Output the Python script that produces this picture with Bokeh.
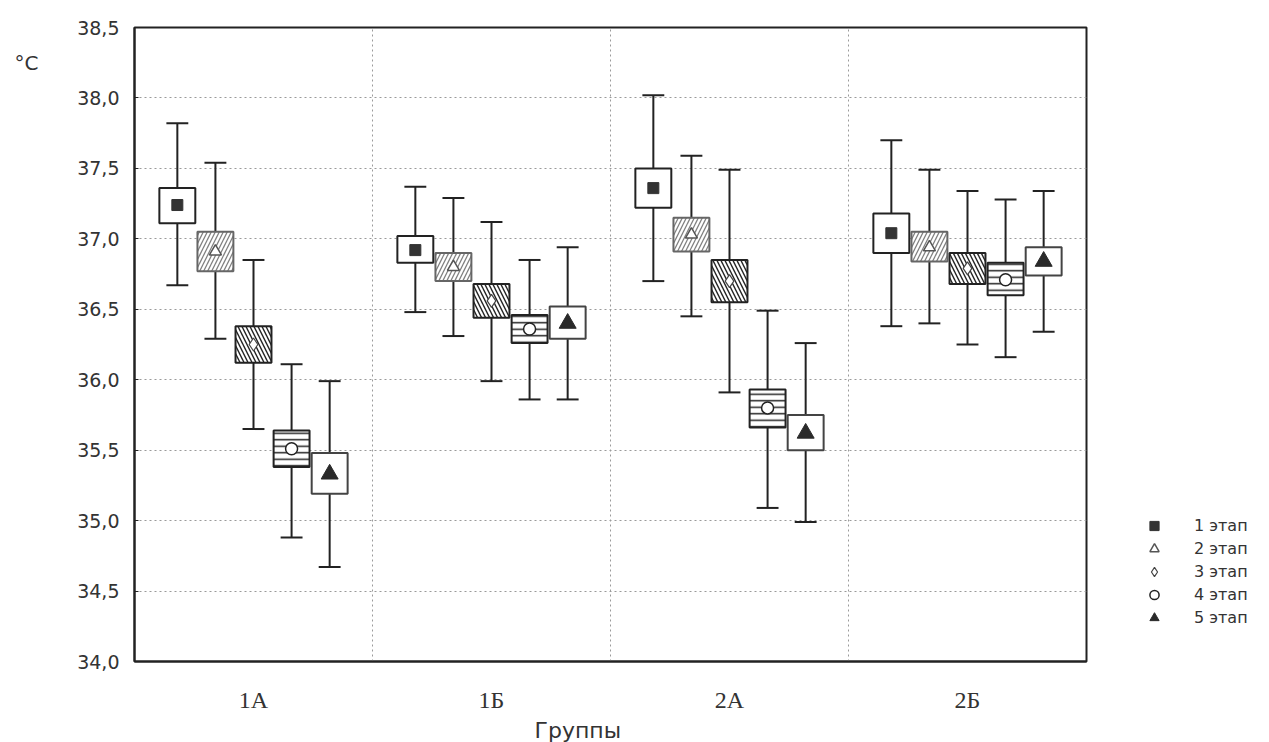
from bokeh.plotting import figure
from bokeh.models import (Range1d, FixedTicker, CustomJSTickFormatter, Legend, LegendItem,
                          Title, LinearAxis, ColumnDataSource)
from bokeh.embed import file_html
from bokeh.resources import INLINE

# ---- data ----
groups = ["1A", "1Б", "2A", "2Б"]
stages = ["1 этап", "2 этап", "3 этап", "4 этап", "5 этап"]

mean_s1 = [37.24, 36.92, 37.36, 37.04]
mean_s2 = [36.91, 36.80, 37.03, 36.94]
mean_s3 = [36.25, 36.56, 36.70, 36.79]
mean_s4 = [35.51, 36.36, 35.80, 36.71]
mean_s5 = [35.33, 36.40, 35.62, 36.84]

box_lo_s1 = [37.11, 36.83, 37.22, 36.90]
box_hi_s1 = [37.36, 37.02, 37.50, 37.18]
box_lo_s2 = [36.77, 36.70, 36.91, 36.84]
box_hi_s2 = [37.05, 36.90, 37.15, 37.05]
box_lo_s3 = [36.12, 36.44, 36.55, 36.68]
box_hi_s3 = [36.38, 36.68, 36.85, 36.90]
box_lo_s4 = [35.38, 36.26, 35.66, 36.60]
box_hi_s4 = [35.64, 36.46, 35.93, 36.83]
box_lo_s5 = [35.19, 36.29, 35.50, 36.74]
box_hi_s5 = [35.48, 36.52, 35.75, 36.94]

wh_lo_s1 = [36.67, 36.48, 36.70, 36.38]
wh_hi_s1 = [37.82, 37.37, 38.02, 37.70]
wh_lo_s2 = [36.29, 36.31, 36.45, 36.40]
wh_hi_s2 = [37.54, 37.29, 37.59, 37.49]
wh_lo_s3 = [35.65, 35.99, 35.91, 36.25]
wh_hi_s3 = [36.85, 37.12, 37.49, 37.34]
wh_lo_s4 = [34.88, 35.86, 35.09, 36.16]
wh_hi_s4 = [36.11, 36.85, 36.49, 37.28]
wh_lo_s5 = [34.67, 35.86, 34.99, 36.34]
wh_hi_s5 = [35.99, 36.94, 36.26, 37.34]

y_ticks = [34.0, 34.5, 35.0, 35.5, 36.0, 36.5, 37.0, 37.5, 38.0, 38.5]
unit_label = "°C"
unit_pos = 38.25
x_title = "Группы"

means = [mean_s1, mean_s2, mean_s3, mean_s4, mean_s5]
box_lo = [box_lo_s1, box_lo_s2, box_lo_s3, box_lo_s4, box_lo_s5]
box_hi = [box_hi_s1, box_hi_s2, box_hi_s3, box_hi_s4, box_hi_s5]
wh_lo = [wh_lo_s1, wh_lo_s2, wh_lo_s3, wh_lo_s4, wh_lo_s5]
wh_hi = [wh_hi_s1, wh_hi_s2, wh_hi_s3, wh_hi_s4, wh_hi_s5]

# ---- figure ----
p = figure(frame_width=952, frame_height=634,
           min_border_left=134, min_border_right=167,
           min_border_top=27, min_border_bottom=20,
           x_range=Range1d(0, 4), y_range=Range1d(34.0, 38.5),
           output_backend="svg", toolbar_location=None,
           background_fill_color="white", border_fill_color="white")

p.outline_line_color = "#222222"
p.outline_line_width = 2

for ax in (p.xaxis[0], p.yaxis[0]):
    ax.axis_line_color = "#222222"
    ax.axis_line_width = 2
    ax.major_tick_line_color = "#222222"
    ax.minor_tick_line_color = None

p.yaxis.ticker = FixedTicker(ticks=y_ticks)
p.yaxis.formatter = CustomJSTickFormatter(code="return tick.toFixed(1).replace('.', ',');")
p.yaxis.major_tick_in = 4
p.yaxis.major_tick_out = 0
p.yaxis.major_label_standoff = 15
p.yaxis.major_label_text_font = "DejaVu Sans"
p.yaxis.major_label_text_font_size = "19px"
p.yaxis.major_label_text_color = "#333333"

# unit label as a second (outer) left axis with a single labelled tick
unit_axis = LinearAxis(ticker=FixedTicker(ticks=[unit_pos]),
                       major_label_overrides={unit_pos: unit_label},
                       axis_line_color=None, major_tick_line_color=None,
                       minor_tick_line_color=None,
                       major_label_standoff=30,
                       major_label_text_font="DejaVu Sans",
                       major_label_text_font_size="20px",
                       major_label_text_color="#333333")
p.add_layout(unit_axis, "left")

centers = [i + 0.5 for i in range(len(groups))]
p.xaxis.ticker = FixedTicker(ticks=centers)
p.xaxis.major_label_overrides = {c: g for c, g in zip(centers, groups)}
p.xaxis.major_tick_in = 0
p.xaxis.major_tick_out = 0
p.xaxis.major_label_standoff = 25
p.xaxis.major_label_text_font = "Liberation Serif"
p.xaxis.major_label_text_font_size = "24px"
p.xaxis.major_label_text_color = "#333333"

p.add_layout(Title(text=x_title, align="left", offset=400, standoff=0,
                   text_font="DejaVu Sans", text_font_size="22px",
                   text_font_style="normal", text_color="#333333"), "below")

p.xgrid.ticker = FixedTicker(ticks=[1, 2, 3])
p.ygrid.ticker = FixedTicker(ticks=y_ticks[1:-1])
for g in (p.xgrid[0], p.ygrid[0]):
    g.grid_line_color = "#9a9a9a"
    g.grid_line_dash = "2 3"
    g.grid_line_width = 1

# ---- glyphs ----
offsets = [-0.32, -0.16, 0.0, 0.16, 0.32]
box_w = 0.151
cap_half = 0.046

box_styles = [
    dict(line_color="#222222", hatch_pattern=None),
    dict(line_color="#666666", hatch_pattern="/", hatch_color="#808080", hatch_scale=8, hatch_weight=1.3),
    dict(line_color="#222222", hatch_pattern="\\", hatch_color="#222222", hatch_scale=8, hatch_weight=1.4),
    dict(line_color="#222222", hatch_pattern="-", hatch_color="#222222", hatch_scale=6.5, hatch_weight=1.5),
    dict(line_color="#444444", hatch_pattern=None),
]
marker_styles = [
    dict(marker="square", size=11, fill_color="#333333", line_color="#333333"),
    dict(marker="triangle", size=12, fill_color="white", line_color="#555555", line_width=1.5),
    dict(marker="diamond", size=13, fill_color="white", line_color="#444444", line_width=1.2),
    dict(marker="circle", size=12, fill_color="white", line_color="#222222", line_width=1.5),
    dict(marker="triangle", size=17, fill_color="#2a2a2a", line_color="#2a2a2a"),
]

mean_renderers = []
for s in range(len(stages)):
    xs = [c + offsets[s] for c in centers]
    src = ColumnDataSource(dict(
        x=xs, x0=[x - cap_half for x in xs], x1=[x + cap_half for x in xs],
        mean=means[s], blo=box_lo[s], bhi=box_hi[s], wlo=wh_lo[s], whi=wh_hi[s]))
    p.segment(x0="x", x1="x", y0="wlo", y1="whi", source=src, line_color="#222222", line_width=2)
    p.segment(x0="x0", x1="x1", y0="wlo", y1="wlo", source=src, line_color="#222222", line_width=2)
    p.segment(x0="x0", x1="x1", y0="whi", y1="whi", source=src, line_color="#222222", line_width=2)
    st = dict(box_styles[s])
    hp = st.pop("hatch_pattern")
    kw = dict(fill_color="white", line_width=2)
    kw.update(st)
    if hp:
        kw["hatch_pattern"] = hp
    p.vbar(x="x", width=box_w, bottom="blo", top="bhi", source=src, **kw)
    r = p.scatter(x="x", y="mean", source=src, **marker_styles[s])
    mean_renderers.append(r)

legend = Legend(items=[LegendItem(label=stages[i], renderers=[mean_renderers[i]]) for i in range(len(stages))],
                location=(46, 22))
legend.border_line_alpha = 0
legend.background_fill_alpha = 0
legend.label_text_font = "DejaVu Sans"
legend.label_text_font_size = "16px"
legend.label_text_color = "#333333"
legend.glyph_width = 24
legend.glyph_height = 23
legend.label_height = 23
legend.spacing = -2
legend.label_standoff = 28
legend.padding = 10
legend.margin = 0
p.add_layout(legend, "right")

open("out.html", "w").write(file_html(p, INLINE))
